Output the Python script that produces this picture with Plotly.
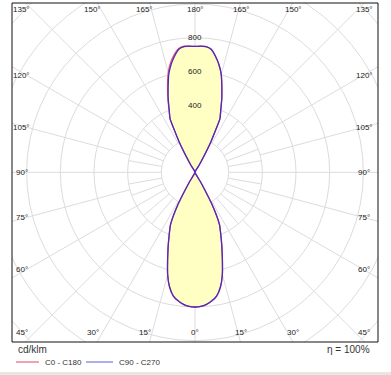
import numpy as np
import plotly.graph_objects as go

# ---------------- data (cd/klm) ----------------
gamma = [0, 2.5, 5, 7.5, 10, 12.5, 15, 17.5, 20, 22.5, 25, 27.5, 30, 32.5,
         147.5, 150, 152.5, 155, 157.5, 160, 162.5, 165, 167.5, 170, 172.5, 175, 177.5, 180]
c0 = [800, 797, 787, 770, 745, 698, 628, 541, 466, 400, 345, 240, 70, 0,
      0, 50, 205, 350, 400, 465, 530, 602, 656, 700, 737, 750, 750, 748]
c180 = [800, 797, 787, 770, 745, 698, 628, 541, 466, 400, 345, 240, 70, 0,
        0, 50, 205, 350, 404, 472, 542, 614, 668, 710, 742, 752, 750, 748]
c90 = [800, 797, 787, 770, 745, 698, 628, 541, 466, 400, 345, 240, 70, 0,
       0, 50, 205, 350, 400, 465, 530, 602, 656, 700, 737, 750, 750, 748]
c270 = [800, 797, 787, 770, 745, 698, 628, 541, 466, 400, 345, 240, 70, 0,
        0, 50, 205, 350, 400, 465, 530, 602, 656, 700, 737, 750, 750, 748]

ring_values = [200, 400, 600, 800, 1000, 1200, 1400]
ring_labels = [400, 600, 800]
angle_ticks = [0, 15, 30, 45, 60, 75, 90, 105, 120, 135, 150, 165, 180]
series_names = ["C0 - C180", "C90 - C270"]
eta_text = "η = 100%"
unit_text = "cd/klm"

# ---------------- geometry ----------------
W, H = 391, 375
ML, MR, MT, MB = 12, 13, 3, 33
XR = [-1087, 1087]
YR = [-1008, 1006]
pw, ph = W - ML - MR, H - MT - MB


def px2paper(px, py):
    return (px - ML) / pw, (H - MB - py) / ph


def plane_path(right_vals, left_vals):
    g = np.radians(gamma)
    rv = np.array(right_vals, float)
    lv = np.array(left_vals, float)
    xr, yr = rv * np.sin(g), -rv * np.cos(g)
    xl, yl = -lv[::-1] * np.sin(g[::-1]), -lv[::-1] * np.cos(g[::-1])
    xs = np.concatenate([xr, xl])
    ys = np.concatenate([yr, yl])
    keep = [0]
    for i in range(1, len(xs)):
        if abs(xs[i] - xs[keep[-1]]) > 1e-6 or abs(ys[i] - ys[keep[-1]]) > 1e-6:
            keep.append(i)
    return xs[keep], ys[keep]


fig = go.Figure()

grid_col = "#dcdcdc"
shapes = []
# rings
for r in ring_values:
    shapes.append(dict(type="circle", xref="x", yref="y", x0=-r, x1=r, y0=-r, y1=r,
                       line=dict(color=grid_col, width=1), layer="below"))
# inner spokes every 10 deg between first and second ring
for a in range(0, 360, 10):
    t = np.radians(a)
    shapes.append(dict(type="line", xref="x", yref="y",
                       x0=200 * np.sin(t), y0=-200 * np.cos(t),
                       x1=400 * np.sin(t), y1=-400 * np.cos(t),
                       line=dict(color=grid_col, width=1), layer="below"))
# spokes every 15 deg from second ring outward
for a in range(0, 360, 15):
    t = np.radians(a)
    shapes.append(dict(type="line", xref="x", yref="y",
                       x0=400 * np.sin(t), y0=-400 * np.cos(t),
                       x1=2000 * np.sin(t), y1=-2000 * np.cos(t),
                       line=dict(color=grid_col, width=1), layer="below"))

SM = 0.35
# fill
fx, fy = plane_path(c90, c270)
fig.add_trace(go.Scatter(x=fx, y=fy, mode="lines", fill="toself",
                         fillcolor="#ffffc4", line=dict(width=0, shape="spline", smoothing=SM),
                         hoverinfo="skip", showlegend=False))
rx, ry = plane_path(c0, c180)
fig.add_trace(go.Scatter(x=rx, y=ry, mode="lines", name=series_names[0],
                         line=dict(color="#e8506a", width=1.3, shape="spline", smoothing=SM),
                         showlegend=False))
bx, by = plane_path(c90, c270)
fig.add_trace(go.Scatter(x=bx, y=by, mode="lines", name=series_names[1],
                         line=dict(color="#4a2ac0", width=1.3, shape="spline", smoothing=SM),
                         showlegend=False))

annotations = []
lab_font = dict(family="Liberation Sans, Arial, sans-serif", size=8, color="#222")
# ring labels
for v in ring_labels:
    annotations.append(dict(x=0, y=v, xref="x", yref="y", text=str(v), showarrow=False,
                            font=lab_font, xanchor="center", yanchor="middle"))
# angle labels
for a in angle_ticks:
    for side in (1, -1):
        if side == -1 and a in (0, 180):
            continue
        t = np.radians(a)
        if a <= 45 or a >= 135:
            ylab = -949 if a <= 45 else 966
            x = 1000 * abs(np.tan(t)) if a not in (0, 180) else 0
            x = min(x, 1000)
        else:
            x = 1000
            ylab = -1000 * np.cos(t) / np.sin(t)
        shift = 1 if side == 1 else -5
        if a in (0, 180):
            shift = 0
        annotations.append(dict(x=side * x, y=ylab, xref="x", yref="y", text=f"{a}°",
                                showarrow=False, font=lab_font, xanchor="center",
                                yanchor="middle", xshift=shift))

# bottom texts
txt_font = dict(family="Liberation Sans, Arial, sans-serif", size=10, color="#333")
ux, uy = px2paper(16, 349)
annotations.append(dict(x=ux, y=uy, xref="paper", yref="paper", text=unit_text, showarrow=False,
                        xanchor="left", yanchor="middle", font=txt_font))
ex, ey = px2paper(372, 349)
annotations.append(dict(x=ex, y=ey, xref="paper", yref="paper", text=eta_text, showarrow=False,
                        xanchor="right", yanchor="middle", font=txt_font))
leg_cols = ["#f2a2ae", "#acacee"]
leg_line = [(16, 39), (86, 113)]
leg_text_x = [43, 117]
for name, col, (l0, l1), tx in zip(series_names, leg_cols, leg_line, leg_text_x):
    a0, yy = px2paper(l0, 362)
    a1, _ = px2paper(l1, 362)
    shapes.append(dict(type="line", xref="paper", yref="paper", x0=a0, x1=a1, y0=yy, y1=yy,
                       line=dict(color=col, width=2)))
    txp, _ = px2paper(tx, 362)
    annotations.append(dict(x=txp, y=yy, xref="paper", yref="paper", text=name, showarrow=False,
                            xanchor="left", yanchor="middle",
                            font=dict(family="Liberation Sans, Arial, sans-serif", size=8, color="#333")))

# frame
shapes.append(dict(type="rect", xref="paper", yref="paper", x0=0, x1=1, y0=0, y1=1,
                   line=dict(color="#111", width=1)))
# bottom grey band
g0x, g0y = px2paper(0, 372)
g1x, g1y = px2paper(W, 375)
shapes.append(dict(type="rect", xref="paper", yref="paper", x0=g0x, x1=g1x, y0=g1y, y1=g0y,
                   line=dict(width=0), fillcolor="#e6e6e6"))

fig.update_layout(
    width=W, height=H, margin=dict(l=ML, r=MR, t=MT, b=MB),
    paper_bgcolor="white", plot_bgcolor="white",
    xaxis=dict(range=XR, visible=False, fixedrange=True),
    yaxis=dict(range=YR, visible=False, fixedrange=True),
    shapes=shapes, annotations=annotations, showlegend=False,
)

fig.write_html("out.html", config={"displayModeBar": False},
               post_script="document.body.style.margin='0px';document.body.style.overflow='hidden';")
